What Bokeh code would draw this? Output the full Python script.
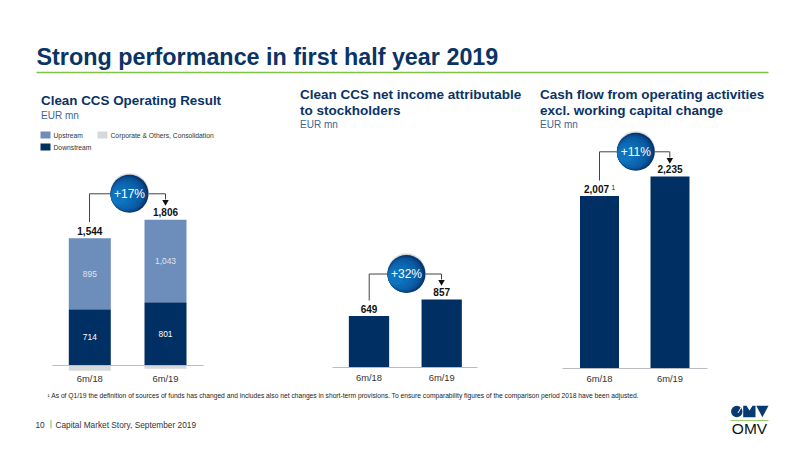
from bokeh.core.properties import value
from bokeh.embed import file_html
from bokeh.models import FixedTicker, LinearAxis, Range1d
from bokeh.plotting import figure
from bokeh.resources import INLINE

# ---------- data ----------
periods = ["6m/18", "6m/19"]
upstream = [895, 1043]
downstream = [714, 801]
corporate = [-65, -38]
operating_total = [1544, 1806]
net_income = [649, 857]
cash_flow = [2007, 2235]
changes = ["+17%", "+32%", "+11%"]
legend_labels = ["Upstream", "Downstream", "Corporate & Others, Consolidation"]

# ---------- palette ----------
NAVY, STEEL, GREY, GREEN, TITLE = "#002F63", "#6D8DBB", "#D6D8DA", "#7DC242", "#0A3366"
FONT = value("Liberation Sans")

PX0, PX1, PY0, PY1 = 0, 784, 0, 443
p = figure(width=784, height=443, output_backend="svg", toolbar_location=None,
           x_range=Range1d(PX0, PX1), y_range=Range1d(PY1, PY0), min_border=0,
           x_axis_type=None, y_axis_type=None, outline_line_color=None)
p.grid.visible = False


def add_panel(name, c0, gap, base, scale, axis_x0, axis_x1, standoff):
    p.extra_x_ranges[name] = Range1d((PX0 - c0) / gap, (PX1 - c0) / gap)
    p.extra_y_ranges[name] = Range1d((base - PY1) / scale, (base - PY0) / scale)
    ax = LinearAxis(x_range_name=name, y_range_name=name, fixed_location=0,
                    ticker=FixedTicker(ticks=[0, 1]),
                    major_label_overrides={0: periods[0], 1: periods[1]},
                    bounds=((axis_x0 - c0) / gap, (axis_x1 - c0) / gap),
                    axis_line_color="#B9BDC1", axis_line_width=1,
                    major_tick_line_color=None, minor_tick_line_color=None,
                    major_tick_out=0, major_tick_in=0,
                    major_label_text_font="Liberation Sans", major_label_text_font_size="9.4px",
                    major_label_text_color="#333333", major_label_standoff=standoff)
    p.add_layout(ax, "below")
    return dict(x_range_name=name, y_range_name=name)


def total_labels(xs, ys, vals, kw, x_offset=0):
    p.text(xs, ys, text=[f"{v:,}" for v in vals], text_font=FONT, text_font_style="bold",
           text_font_size="10px", text_color="#111111", text_align="center",
           text_baseline="alphabetic", x_offset=x_offset, y_offset=-7.2, **kw)


idx = [0, 1]

# ---------- panel 1: stacked ----------
k1 = add_panel("op", 89.3, 75.7, 365.2, 0.0792, 51.5, 202.5, 7)
w1 = 42 / 75.7
p.vbar(idx, w1, top=corporate, bottom=0, color=GREY, line_color=None, **k1)
p.vbar(idx, w1, top=downstream, bottom=0, color=NAVY, line_color=None, **k1)
up_top = [d + u for d, u in zip(downstream, upstream)]
p.vbar(idx, w1, top=up_top, bottom=downstream, color=STEEL, line_color=None, **k1)
p.text(idx, [d / 2 for d in downstream], text=[f"{v:,}" for v in downstream], text_font=FONT,
       text_font_size="8.4px", text_color="#FFFFFF", text_align="center", text_baseline="middle", **k1)
p.text(idx, [d + u / 2 for d, u in zip(downstream, upstream)], text=[f"{v:,}" for v in upstream],
       text_font=FONT, text_font_size="8.4px", text_color="#DDE5F0", text_align="center",
       text_baseline="middle", **k1)
total_labels(idx, up_top, operating_total, k1)

# ---------- panel 2 ----------
k2 = add_panel("ni", 368.5, 72.7, 367.3, 0.0797, 332, 477, 4)
p.vbar(idx, 40.3 / 72.7, top=net_income, bottom=0, color=NAVY, line_color=None, **k2)
total_labels(idx, net_income, net_income, k2)

# ---------- panel 3 ----------
k3 = add_panel("cf", 599, 70.5, 367.6, 0.0857, 562, 707, 5)
p.vbar(idx, 39 / 70.5, top=cash_flow, bottom=0, color=NAVY, line_color=None, **k3)
total_labels(idx[:1], cash_flow[:1], cash_flow[:1], k3, x_offset=-3)
total_labels(idx[1:], cash_flow[1:], cash_flow[1:], k3)
p.text([0], [cash_flow[0]], text=["1"], text_font=FONT, text_font_size="6.5px",
       text_color="#111111", text_baseline="alphabetic", x_offset=12, y_offset=-9, **k3)

# ---------- connectors and bubbles ----------
connectors = [(89, 221.5, 193.3, 165, 199, 129), (368.7, 300, 273.5, 441, 279, 406),
              (599, 180, 151.3, 669.3, 157, 635.3)]
bubble_steps = [("#07346C", 19.0), ("#084384", 18.0), ("#0A5296", 17.0), ("#0A5DA4", 15.5),
                ("#0B65AE", 13.5), ("#0C6CB6", 11.0), ("#0E74BE", 8.0)]
halo = ["#F0F0F0", "#E0E0E0", "#CDD0D4"]
for i, (x0, y0, ym, x1, y1, bx) in enumerate(connectors):
    p.line([x0, x0, x1, x1], [y0, ym, ym, y1], line_color="#444444", line_width=1)
    p.scatter([x1], [y1 + 2.5], marker="inverted_triangle", size=6.5, color="#111111", line_color=None)
    for j, c in enumerate(halo):
        p.circle([bx], [ym - 1.8 + j * 0.5], radius=19.2 - j * 0.1, color=c, line_color=None)
    for c, r in bubble_steps:
        p.circle([bx - (19 - r) * 0.95], [ym + (19 - r) * 0.25], radius=r, color=c, line_color=None)
    p.text([bx], [ym], text=[changes[i]], text_font=FONT, text_font_size="12px", text_color="#FFFFFF",
           text_align="center", text_baseline="middle")


def txt(x, y, s, size, color="#333333", style="normal"):
    """x, y are page pixels; y is the text's baseline."""
    p.text([x], [y - 0.35 * size], text=[s], text_font=FONT, text_font_size=f"{size}px", text_color=color,
           text_font_style=style, text_baseline="alphabetic")


# ---------- header ----------
txt(36, 65, "Strong performance in first half year 2019", 23.35, TITLE, "bold")
p.line([36, 768], [72, 72], line_color=GREEN, line_width=1.6)

txt(40.5, 105, "Clean CCS Operating Result", 13.4, TITLE, "bold")
txt(40.5, 118.3, "EUR mn", 10, "#3D6491")
txt(299.5, 99, "Clean CCS net income attributable", 13.5, TITLE, "bold")
txt(299.5, 114.7, "to stockholders", 13.5, TITLE, "bold")
txt(299.5, 127.7, "EUR mn", 10, "#3D6491")
txt(539.5, 99, "Cash flow from operating activities", 13.5, TITLE, "bold")
txt(539.5, 114.7, "excl. working capital change", 13.5, TITLE, "bold")
txt(539.5, 127.7, "EUR mn", 10, "#3D6491")

# ---------- legend ----------
for (x, y, c, s) in [(40, 131, STEEL, legend_labels[0]), (40, 143, NAVY, legend_labels[1]),
                     (97, 131, GREY, legend_labels[2])]:
    p.quad(left=[x], right=[x + 10], top=[y], bottom=[y + 7], color=c, line_color=None)
    txt(x + 13, y + 6.8, s, 6.75, "#333333")

# ---------- footer ----------
txt(47, 397.7, "¹ As of Q1/19 the definition of sources of funds has changed and includes also net changes "
    "in short-term provisions. To ensure comparability figures of the comparison period 2018 have been adjusted.",
    6.7, "#222222")
txt(35, 427, "10", 8.3, "#333333")
p.line([50.5, 50.5], [419.5, 428], line_color=GREEN, line_width=1)
txt(55, 427, "Capital Market Story, September 2019", 8.3, "#333333")

# ---------- logo ----------
p.circle([736.3], [411], radius=5.7, color="#073A70", line_color=None)
p.line([741.5, 737.5], [405.5, 412.5], line_color="#FFFFFF", line_width=1)
p.patch([742.7, 746, 749, 752, 755, 755, 742.7], [405.3, 405.3, 410, 405.3, 405.3, 416.7, 416.7],
        color="#073A70", line_color=None)
p.patch([755.8, 768, 761.9], [405.3, 405.3, 416.7], color="#073A70", line_color=None)
p.line([730, 768], [420, 420], line_color=GREEN, line_width=0.8)
p.text([749], [433 - 0.35 * 15.5], text=["OMV"], text_font=FONT, text_font_size="15.5px", text_color="#111111",
       text_align="center", text_baseline="alphabetic")

open("out.html", "w").write(file_html(p, INLINE))
